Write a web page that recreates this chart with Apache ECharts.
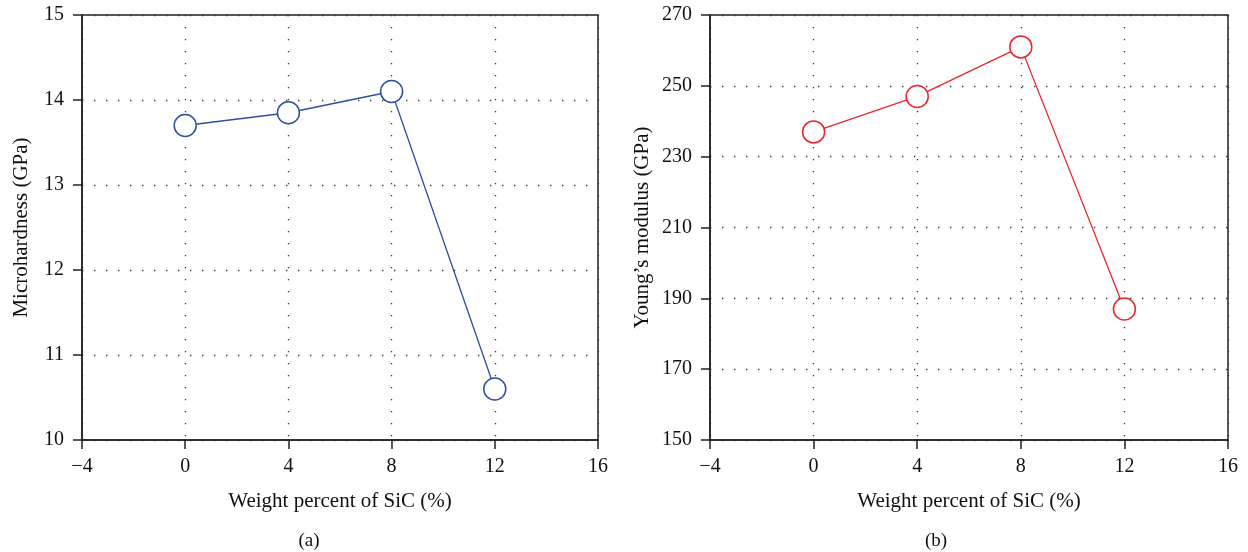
<!DOCTYPE html>
<html><head><meta charset="utf-8">
<script src="https://cdn.jsdelivr.net/npm/echarts@6/dist/echarts.min.js"></script>
<style>html,body{margin:0;padding:0;background:#fff}#c{width:1248px;height:552px}</style>
</head><body><div id="c"></div>
<script>
const sicWeight = [0, 4, 8, 12];
const microhardness = [13.7, 13.85, 14.1, 10.6];
const youngsModulus = [237, 247, 261, 187];
const xTicks = [-4, 0, 4, 8, 12, 16];
const hardTicks = [10, 11, 12, 13, 14, 15];
const modTicks = [150, 170, 190, 210, 230, 250, 270];

const FONT = '"Liberation Serif","DejaVu Serif",serif';
const chart = echarts.init(document.getElementById('c'), null, {renderer: 'canvas'});

function xAxis(gi) {
  return {
    type: 'value', gridIndex: gi, min: -4, max: 16,
    name: 'Weight percent of SiC (%)', nameLocation: 'middle', nameGap: 51,
    nameTextStyle: {fontFamily: FONT, fontSize: 21, color: '#111'},
    axisLine: {onZero: false, lineStyle: {color: '#222', width: 1.5}},
    axisTick: {show: true, inside: false, length: 9, lineStyle: {color: '#222', width: 1.5}, customValues: xTicks},
    axisLabel: {fontFamily: FONT, fontSize: 20, color: '#111', margin: 17, customValues: xTicks,
      formatter: v => (v < 0 ? '\u2212' + Math.abs(v) : String(v))},
    splitLine: {show: true, lineStyle: {color: '#333', width: 1.3, type: [1.3, 10.7]}}
  };
}
function yAxis(gi, name, ticks, gap) {
  return {
    type: 'value', gridIndex: gi, min: ticks[0], max: ticks[ticks.length - 1],
    name: name, nameLocation: 'middle', nameGap: gap,
    nameTextStyle: {fontFamily: FONT, fontSize: 21, color: '#111'},
    axisLine: {show: true, onZero: false, lineStyle: {color: '#222', width: 1.5}},
    axisTick: {show: true, inside: false, length: 9, lineStyle: {color: '#222', width: 1.5}, customValues: ticks},
    axisLabel: {fontFamily: FONT, fontSize: 20, color: '#111', margin: 18, customValues: ticks},
    splitLine: {show: true, lineStyle: {color: '#333', width: 1.3, type: [1.3, 10.7]}}
  };
}
function series(gi, vals, color) {
  return {
    type: 'line', xAxisIndex: gi, yAxisIndex: gi,
    data: sicWeight.map((x, i) => [x, vals[i]]),
    symbol: 'circle', symbolSize: 22, showSymbol: true,
    lineStyle: {color: color, width: 1.3},
    itemStyle: {color: '#fff', borderColor: color, borderWidth: 1.5},
    emphasis: {disabled: true}, animation: false, z: 3
  };
}

chart.setOption({
  animation: false,
  grid: [
    {left: 82, right: 650, top: 15, bottom: 112, show: true, borderColor: '#222', borderWidth: 1.5, backgroundColor: 'transparent'},
    {left: 710, right: 20, top: 15, bottom: 112, show: true, borderColor: '#222', borderWidth: 1.5, backgroundColor: 'transparent'}
  ],
  xAxis: [xAxis(0), xAxis(1)],
  yAxis: [yAxis(0, 'Microhardness (GPa)', hardTicks, 50), yAxis(1, 'Young\u2019s modulus (GPa)', modTicks, 57)],
  series: [series(0, microhardness, '#2e4f9f'), series(1, youngsModulus, '#e8262d')],
  title: [
    {text: '(a)', left: 304, top: 527, textAlign: 'center', textStyle: {fontFamily: FONT, fontSize: 19, fontWeight: 'normal', color: '#111'}},
    {text: '(b)', left: 931, top: 527, textAlign: 'center', textStyle: {fontFamily: FONT, fontSize: 19, fontWeight: 'normal', color: '#111'}}
  ]
});
</script></body></html>
